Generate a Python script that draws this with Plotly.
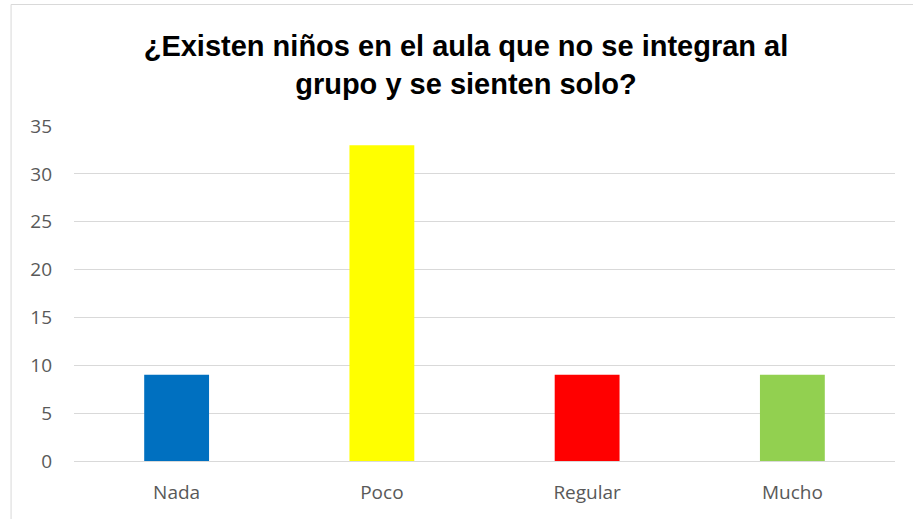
import plotly.graph_objects as go

categories = ["Nada", "Poco", "Regular", "Mucho"]
values = [9, 33, 9, 9]
colors = ["#0070C0", "#FFFF00", "#FF0000", "#92D050"]
title_text = "¿Existen niños en el aula que no se integran al<br>grupo y se sienten solo?"

W, H = 913, 519
L, R, T, B = 73.5, 17.5, 126, 58
pw = W - L - R
ph = H - T - B

fig = go.Figure(go.Bar(x=categories, y=values, marker=dict(color=colors, line=dict(width=0)),
                       hoverinfo="x+y"))

def px_to_paper_x(px):
    return (px - L) / pw

def px_to_paper_y(py):
    return (H - B - py) / ph

tick_font = dict(family="Open Sans, Calibri, sans-serif", size=19, color="#595959")

fig.update_layout(
    width=W, height=H,
    margin=dict(l=L, r=R, t=T, b=B, autoexpand=False),
    paper_bgcolor="white", plot_bgcolor="white",
    bargap=0.684,
    showlegend=False,
    title=dict(text="<b>" + title_text + "</b>", x=466 / W, xanchor="center", xref="container",
               y=1 - 56 / H, yanchor="middle", yref="container",
               font=dict(family="Liberation Sans, Arial", size=29, color="#000000")),
    xaxis=dict(showgrid=False, showline=False, ticks="", ticklabelstandoff=18,
               tickfont=tick_font),
    yaxis=dict(range=[0, 35], dtick=5, showgrid=True, gridcolor="#D9D9D9", gridwidth=1,
               zeroline=True, zerolinecolor="#D9D9D9", zerolinewidth=1,
               showline=False, ticks="", ticklabelstandoff=21,
               tickfont=tick_font),
    shapes=[dict(type="rect", xref="paper", yref="paper",
                 x0=px_to_paper_x(10.5), x1=px_to_paper_x(W + 5),
                 y0=px_to_paper_y(H + 5), y1=px_to_paper_y(4.5),
                 line=dict(color="#D9D9D9", width=1), fillcolor="rgba(0,0,0,0)", layer="below")],
)

fig.write_html("out.html", config={"displayModeBar": False},
               post_script="document.body.style.margin='0';document.body.style.padding='0';")
